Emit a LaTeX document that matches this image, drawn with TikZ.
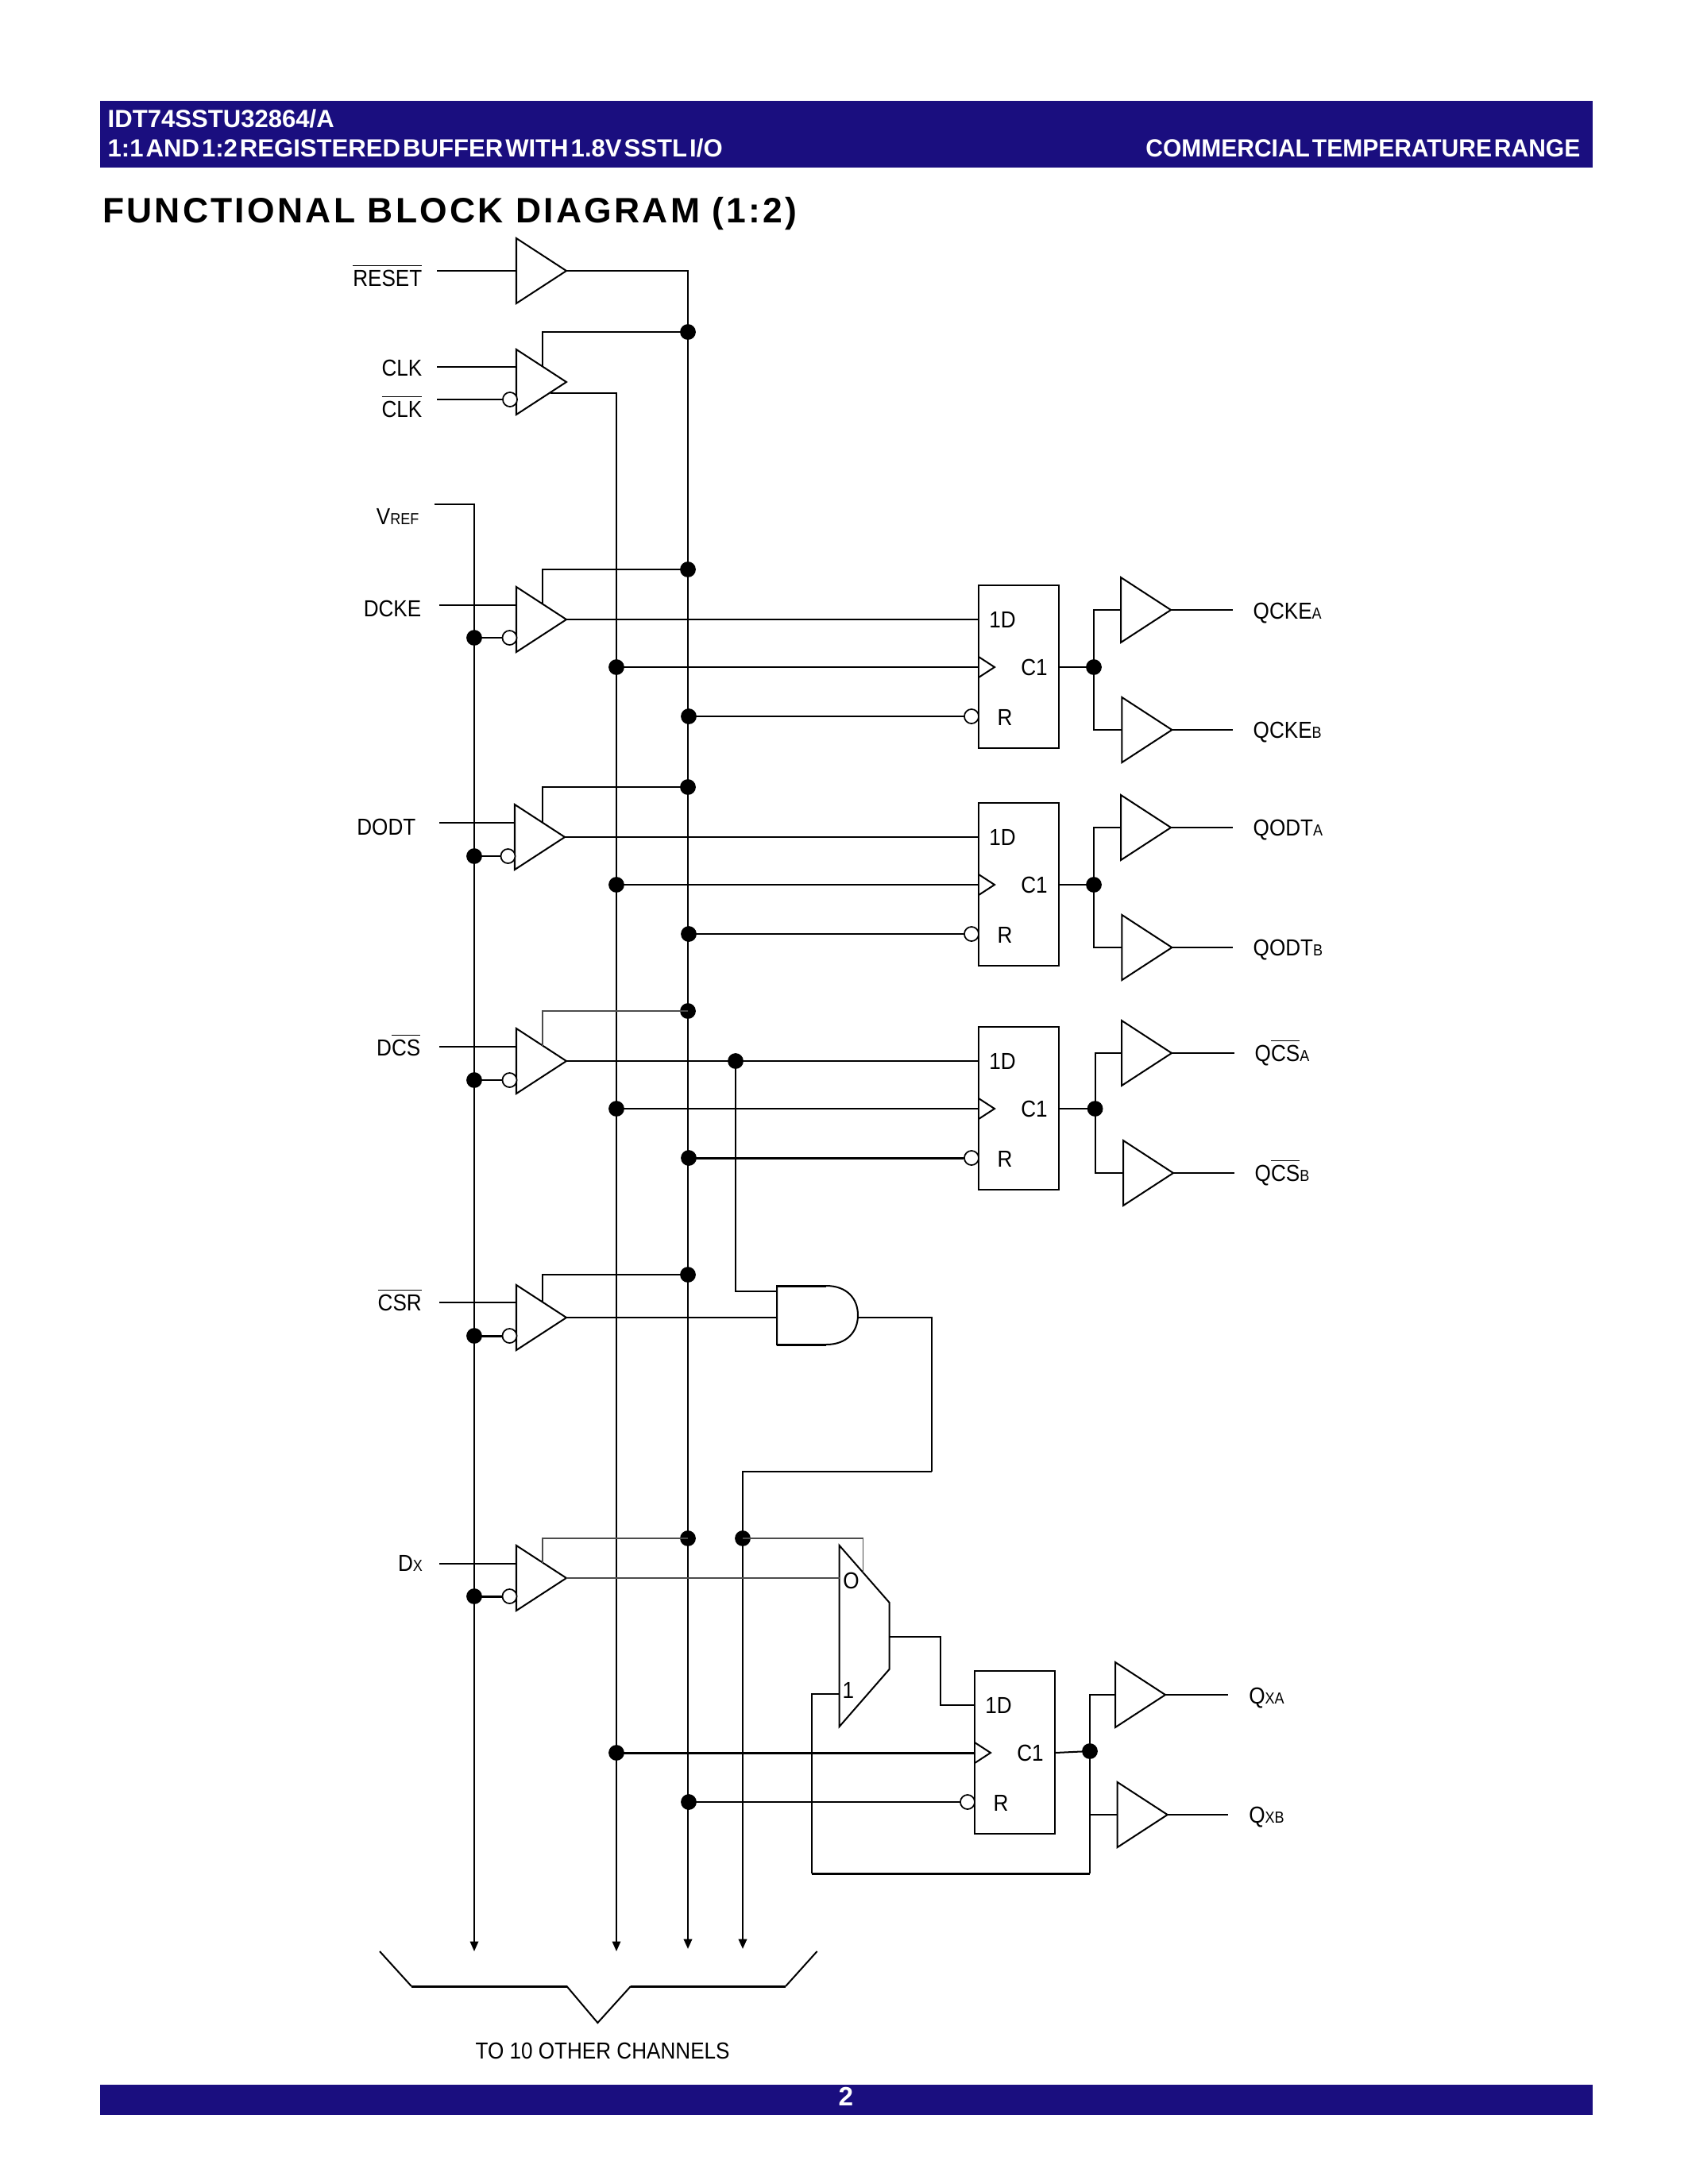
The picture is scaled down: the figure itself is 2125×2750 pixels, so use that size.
\documentclass[tikz,border=0pt]{standalone}
\usepackage{fontspec}
\usetikzlibrary{arrows.meta,calc}
\setmainfont{Liberation Sans}
\newfontfamily\labfont[FakeStretch=0.895]{Liberation Sans}
\newfontfamily\hdrfont[WordSpace=0.35,FakeStretch=0.995]{Liberation Sans}
\newfontfamily\hdrfontb[WordSpace=0.35,FakeStretch=0.96]{Liberation Sans}
\newfontfamily\ttlfont[LetterSpace=7.3]{Liberation Sans}
\definecolor{navy}{HTML}{1A0E7F}
\newcommand\ovl[1]{\ensuremath{\overline{\hbox{#1}}}}
\newcommand\subl[1]{{\fontsize{5.8}{6}\selectfont #1}}
\tikzset{
  wire/.style={line width=0.58pt,line join=miter},
  thinw/.style={line width=0.4pt,black!70},
  thickw/.style={line width=0.85pt},
  gate/.style={line width=0.58pt,line join=miter},
  dot/.style={circle,fill=black,draw=none,inner sep=0pt,minimum size=5.7pt},
  bub/.style={circle,fill=white,draw=black,line width=0.5pt,inner sep=0pt,minimum size=5.2pt},
  arrowtip/.style={-{Triangle[length=3.6pt,width=3pt]}},
  busarrow/.style={wire,arrowtip},
  busarrowk/.style={line width=0.72pt,arrowtip},
  lab/.style={font=\labfont\fontsize{8.4}{10}\selectfont,inner sep=0pt,text=black},
  hdr/.style={font=\hdrfont\bfseries\fontsize{9}{10}\selectfont,inner sep=0pt,text=white},
  ffbox/.style={draw,line width=0.58pt,inner sep=0pt,outer sep=0pt,anchor=north west,minimum width=29.09pt,minimum height=59.04pt},
}
% name, left x, mid y
\newcommand\tribuf[3]{%
  \draw[gate] (#2,#3-41) -- (#2+63,#3) -- (#2,#3+41) -- cycle;
  \coordinate (#1-tip) at (#2+63,#3);
  \coordinate (#1-e) at (683,#3-19.5);
}
% name, left x, mid y, input y, bubble y, top wire y, top wire style, bubble wire style
\newcommand\inchan[8]{%
  \tribuf{#1}{#2}{#3}
  \coordinate (#1-s) at (553,#4);
  \coordinate (#1-i) at (#2,#4);
  \draw[wire] (#1-s) -- (#1-i);
  \node[bub] (#1-b) at (#2-8.5,#5) {};
  \node[dot] (#1-v) at (597,#5) {};
  \draw[#8] (#1-v.center) -- (#1-b);
  \node[dot] (#1-r) at (866,#6) {};
  \draw[#7] (#1-r.center) -| (#1-e);
}
% name, left x, top y
\newcommand\flop[3]{%
  \node[ffbox] (#1) at (#2,#3) {};
  \coordinate (#1-d) at (#2,#3+43);
  \coordinate (#1-c) at (#2,#3+103);
  \node[bub] (#1-rb) at (#2-9,#3+165) {};
  \draw[gate] (#2,#3+90) -- (#2+20,#3+103) -- (#2,#3+116);
  \coordinate (#1-q) at (#2+101,#3+103);
  \node[lab] at (#2+30,#3+43) {1D};
  \node[lab] at (#2+70,#3+103) {C1};
  \node[lab] at (#2+33,#3+166) {R};
}
% name, left x, mid y, end x
\newcommand\outbuf[4]{%
  \tribuf{#1}{#2}{#3}
  \coordinate (#1-in) at (#2,#3);
  \coordinate (#1-out) at (#4,#3);
  \draw[wire] (#1-tip) -- (#1-out);
}
\begin{document}
\begin{tikzpicture}[x=0.288pt,y=-0.288pt]
\useasboundingbox (0,0) rectangle (2125,2750);
\fill[navy] (126,127) rectangle (2005,211);
\fill[navy] (126,2625) rectangle (2005,2663);
\node[hdr,anchor=base west] (h1) at (135,160) {IDT74SSTU32864/A};
\node[hdr,anchor=base west] (h2) at (135,197) {1:1 AND 1:2 REGISTERED BUFFER WITH 1.8V SSTL I/O};
\node[hdr,font=\hdrfontb\bfseries\fontsize{9}{10}\selectfont,anchor=base east] (h3) at (1990,197) {COMMERCIAL TEMPERATURE RANGE};
\node[anchor=base west,inner sep=0pt,font=\ttlfont\bfseries\fontsize{12.8}{14}\selectfont] (ttl) at (128.5,280) {FUNCTIONAL BLOCK DIAGRAM (1:2)};
\node[font=\bfseries\fontsize{9.6}{10}\selectfont,text=white,inner sep=0pt] (pg) at (1065,2640) {2};

% reset
\tribuf{rs}{650}{341}
\coordinate (rs-s) at (550,341);
\coordinate (rs-i) at (650,341);
\coordinate (bus-r-end) at (866,2454);
\draw[thickw] (rs-s) -- (rs-i);
\draw[busarrowk] (rs-tip) -| (bus-r-end);
% clk
\tribuf{ck}{650}{481}
\coordinate (ck-s) at (550,462);
\coordinate (ck-i) at (650,462);
\draw[wire] (ck-s) -- (ck-i);
\node[bub] (ck-b) at (642,503) {};
\coordinate (ckb-s) at (550,503);
\draw[thickw] (ckb-s) -- (ck-b);
\node[dot] (ck-r) at (866,418) {};
\draw[wire] (ck-r.center) -| (ck-e);
\coordinate (ck-o) at (693,495);
\coordinate (bus-c-end) at (776,2457);
\draw[busarrow] (ck-o) -| (bus-c-end);
% vref bus
\coordinate (vr-s) at (547,635);
\coordinate (bus-v-end) at (597,2457);
\draw[busarrow] (vr-s) -| (bus-v-end);

% channels
\inchan{ke}{650}{780}{762}{803}{717}{wire}{thickw}
\inchan{od}{648}{1054}{1036}{1078}{991}{wire}{wire}
\inchan{cs}{650}{1336}{1318}{1360}{1273}{thinw}{thickw}
\inchan{cr}{650}{1659}{1640}{1682}{1605}{wire}{thickw}
\inchan{dx}{650}{1987}{1969}{2010}{1937}{thinw}{thickw}

% flops
\flop{fa}{1232}{737}
\flop{fb}{1232}{1011}
\flop{fc}{1232}{1293}
\flop{fd}{1227}{2104}

% D wires
\draw[wire] (ke-tip) -- (fa-d);
\draw[wire] (od-tip) -- (fb-d);
\node[dot] (jc) at (926,1336) {};
\draw[wire] (cs-tip) -- (fc-d);

% clock and reset dots
\foreach \n/\yc/\yr/\sc/\sr in {fa/840/902/wire/wire,fb/1114/1176/thickw/wire,fc/1396/1458/wire/thickw,fd/2207/2269/thickw/wire}{
  \node[dot] (\n-cd) at (776,\yc) {};
  \node[dot] (\n-rd) at (867,\yr) {};
  \draw[\sc] (\n-cd.center) -- (\n-c);
  \draw[\sr] (\n-rd.center) -- (\n-rb);
}

% outputs
\outbuf{qa}{1411}{768}{1552}
\outbuf{qb}{1412.4}{919}{1552}
\node[dot] (qa-j) at (1377,840) {};
\draw[wire] (fa-q) -- (qa-j.center);
\draw[wire] (qa-in) -| (qa-j.center) |- (qb-in);

\outbuf{qc}{1411}{1042}{1552}
\outbuf{qd}{1412.4}{1193}{1552}
\node[dot] (qc-j) at (1377,1114) {};
\draw[thickw] (fb-q) -- (qc-j.center);
\draw[wire] (qc-in) -| (qc-j.center) |- (qd-in);

\outbuf{qe}{1412}{1326}{1554}
\outbuf{qf}{1414}{1477}{1554}
\node[dot] (qe-j) at (1378.6,1396) {};
\draw[wire] (fc-q) -- (qe-j.center);
\draw[wire] (qe-in) -| (qe-j.center) |- (qf-in);

\outbuf{qg}{1404}{2134}{1546}
\outbuf{qh}{1406.7}{2285}{1546}
\node[dot] (qg-j) at (1372,2205) {};
\draw[wire] (fd-q) -- (qg-j.center);
\draw[wire] (qg-in) -| (qg-j.center) |- (qh-in);

% AND gate
\draw[gate] (1040,1619) -- (978,1619) -- (978,1693) -- (1040,1693) .. controls (1066,1693) and (1080,1677) .. (1080,1656) .. controls (1080,1635) and (1066,1619) .. (1040,1619);
\draw[thickw] (978,1619) -- (1040,1619) (978,1693) -- (1040,1693);
\coordinate (an-a) at (978,1626);
\coordinate (an-b) at (978,1659);
\coordinate (an-o) at (1080,1659);
\draw[wire] (jc.center) |- (an-a);
\draw[wire] (cr-tip) -- (an-b);
\coordinate (sel-m) at (1173,1853);
\coordinate (bus-s-end) at (935,2454);
\draw[wire] (an-o) -| (sel-m);
\draw[busarrowk] (sel-m) -| (bus-s-end);

% mux
\draw[gate] (1056.7,1946) -- (1119.7,2018) -- (1119.7,2101.7) -- (1056.7,2174) -- cycle;
\node[lab] (mx0) at (1071.6,1990) {O};
\node[lab] (mx1) at (1068,2128) {1};
\node[dot] (sd) at (935,1937) {};
\coordinate (mx-s) at (1086.6,1980);
\draw[thinw] (sd.center) -| (mx-s);
\coordinate (mx-i0) at (1056.7,1987);
\draw[thinw] (dx-tip) -- (mx-i0);
\coordinate (mx-o) at (1119.7,2061);
\coordinate (mx-k) at (1184,2061);
\draw[wire] (mx-o) -- (mx-k) |- (fd-d);
\coordinate (mx-i1) at (1056.7,2133);
\coordinate (fbk-c) at (1022,2359);
\coordinate (fbk-r) at (1372,2359);
\draw[wire] (mx-i1) -| (fbk-c);
\draw[thickw] (fbk-c) -- (fbk-r);
\draw[wire] (fbk-r) -- (qg-j.center);

% brace
\coordinate (b1) at (478,2457);
\coordinate (b2) at (518,2501);
\coordinate (b3) at (713.5,2501);
\coordinate (b4) at (752.4,2547);
\coordinate (b5) at (794,2501);
\coordinate (b6) at (989,2501);
\coordinate (b7) at (1028.6,2457);
\draw[wire] (b1) -- (b2);
\draw[thickw] (b2) -- (b3);
\draw[wire] (b3) -- (b4) -- (b5);
\draw[thickw] (b5) -- (b6);
\draw[wire] (b6) -- (b7);
\node[lab] (tc) at (758.6,2582) {TO 10 OTHER CHANNELS};

% labels
\node[lab,anchor=base east] (l1) at (532,360) {\ovl{RESET}};
\node[lab,anchor=base east] (l2) at (532,473) {CLK};
\node[lab,anchor=base east] (l3) at (532,525) {\ovl{CLK}};
\node[lab,anchor=base east] (l4) at (528,660) {V\subl{REF}};
\node[lab,anchor=base east] (l5) at (531,776) {DCKE};
\node[lab,anchor=base east] (l6) at (524,1051) {DODT};
\node[lab,anchor=base east] (l7) at (530,1329) {D\ovl{CS}};
\node[lab,anchor=base east] (l8) at (531.5,1650) {\ovl{CSR}};
\node[lab,anchor=base east] (l9) at (532.6,1978) {D\subl{X}};
\node[lab,anchor=base west] (r1) at (1577,779) {QCKE\subl{A}};
\node[lab,anchor=base west] (r2) at (1577,929) {QCKE\subl{B}};
\node[lab,anchor=base west] (r3) at (1577,1052.5) {QODT\subl{A}};
\node[lab,anchor=base west] (r4) at (1577,1203.7) {QODT\subl{B}};
\node[lab,anchor=base west] (r5) at (1579,1336) {Q\ovl{CS}\subl{A}};
\node[lab,anchor=base west] (r6) at (1579,1487) {Q\ovl{CS}\subl{B}};
\node[lab,anchor=base west] (r7) at (1571.6,2145) {Q\subl{X}\subl{A}};
\node[lab,anchor=base west] (r8) at (1571.6,2295) {Q\subl{X}\subl{B}};
\end{tikzpicture}
\end{document}
